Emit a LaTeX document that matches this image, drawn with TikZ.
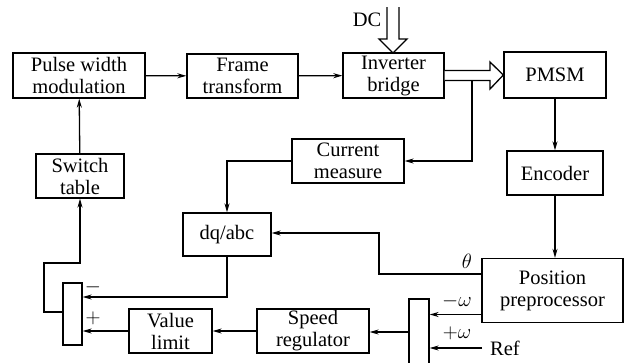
\documentclass[tikz,border=0pt]{standalone}
\usepackage{fontspec}
\setmainfont{Liberation Serif}
\usetikzlibrary{arrows.meta}
\begin{document}
\begin{tikzpicture}[x=1pt,y=-1pt,
  blk/.style={draw,line width=1.3pt,align=center,inner sep=0pt,font=\fontsize{20.5}{22}\selectfont},
  sumbox/.style={draw,line width=1.3pt,inner sep=0pt,minimum width=19pt},
  conn/.style={line width=1.3pt,-{Stealth[length=9pt,width=5pt]}},
  lbl/.style={font=\fontsize{20.5}{22}\selectfont,inner sep=0pt},
  hollow/.style={draw,line width=1.3pt,fill=white}]
\useasboundingbox (0,0) rectangle (627,362);
\node[blk,minimum width=132pt,minimum height=45pt] (pwm) at (79,75.5) {Pulse width\\modulation};
\node[blk,minimum width=111pt,minimum height=44pt] (ft) at (242.5,76) {Frame\\transform};
\node[blk,minimum width=101pt,minimum height=45pt] (inv) at (393.5,75.5) {Inverter\\bridge};
\node[blk,minimum width=102pt,minimum height=46pt] (pmsm) at (555,75) {PMSM};
\node[blk,minimum width=112pt,minimum height=44pt] (cm) at (348,161) {Current\\measure};
\node[blk,minimum width=96pt,minimum height=44pt] (enc) at (555,173) {Encoder};
\node[blk,minimum width=88pt,minimum height=44pt] (sw) at (80,176) {Switch\\table};
\node[blk,minimum width=88pt,minimum height=43pt] (dq) at (227,234.5) {dq/abc};
\node[blk,minimum width=141pt,minimum height=64pt] (pp) at (552.5,290.5) {Position\\preprocessor};
\node[blk,minimum width=83pt,minimum height=44pt] (vl) at (170.5,331) {Value\\limit};
\node[blk,minimum width=112pt,minimum height=44pt] (sr) at (313,331) {Speed\\regulator};
\node[sumbox,minimum height=62pt] (s1) at (72.5,314) {};
\node[sumbox,minimum height=70pt,minimum width=20pt] (s2) at (419,334) {};
\coordinate (ref) at (482,348);
% DC hollow arrow
\draw[hollow] (387,7) -- (387,39) -- (379,39) -- (393,53) -- (407,39) -- (399,39) -- (399,7);
\node[lbl] (dc) at (367,20) {DC};
% hollow arrow inverter -> PMSM
\draw[hollow] (inv.east |- 0,70.5) -- (490,70.5) -- (490,62) -- (pmsm.west) -- (490,89) -- (490,80.5) -- (inv.east |- 0,80.5);
% connectors
\draw[conn] (pwm) -- (ft);
\draw[conn] (ft) -- (inv);
\draw[conn] (472,80.5) |- (cm.east);
\draw[conn] (pmsm) -- (enc);
\draw[conn] (enc.south) -- (enc.south |- pp.north);
\draw[conn] (sw) -- (pwm);
\draw[conn] (cm.west) -| (dq.north);
\draw[conn] (pp.west |- 0,274) -- (379,274) -- (379,233) -- (dq.east |- 0,233);
\node[lbl] at (467,261) {$\theta$};
\draw[conn] (dq.south) |- (s1.east |- 0,297);
\node[lbl] at (93,287) {$-$};
\node[lbl] at (93,318) {$+$};
\draw[conn] (vl.west) -- (s1.east |- vl.west);
\draw[conn] (sr.west) -- (vl.east);
\draw[conn] (s1.west |- 0,312) -- (44,312) -- (44,263) -- (80,263) -- (sw.south);
\draw[conn] (pp.west |- 0,314.5) -- (s2.east |- 0,314.5);
\node[lbl] at (457,301) {$-\omega$};
\node[lbl] at (457,333) {$+\omega$};
\draw[conn] (ref) -- (s2.east |- ref);
\node[lbl,anchor=west] (reft) at (490,348) {Ref};
\draw[conn] (s2.west |- 0,332) -- (sr.east |- 0,332);
\end{tikzpicture}
\end{document}
